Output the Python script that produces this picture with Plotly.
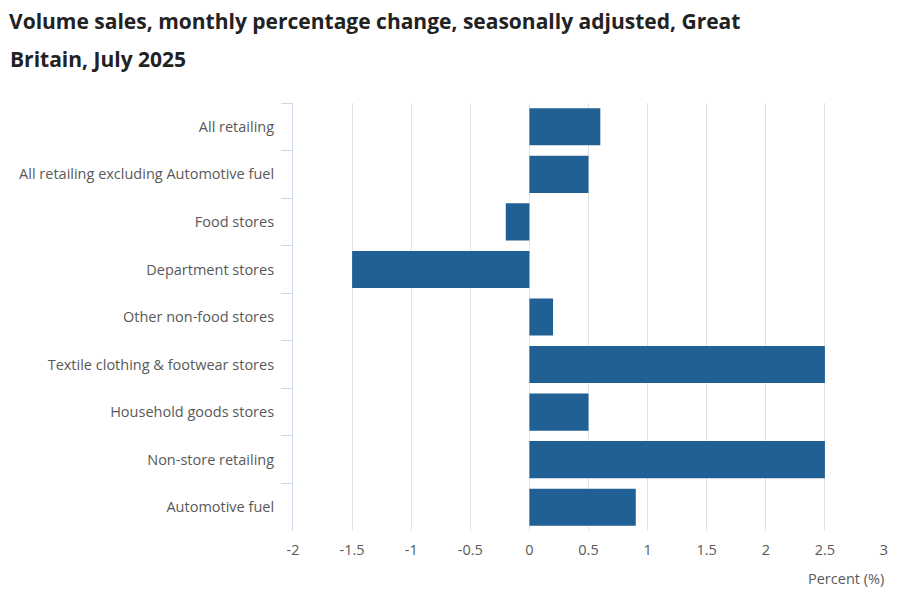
import plotly.graph_objects as go

# Categories, top to bottom
categories = [
    "All retailing",
    "All retailing excluding Automotive fuel",
    "Food stores",
    "Department stores",
    "Other non-food stores",
    "Textile clothing & footwear stores",
    "Household goods stores",
    "Non-store retailing",
    "Automotive fuel",
]
# Monthly % change, volume, seasonally adjusted
pct_change = [0.6, 0.5, -0.2, -1.5, 0.2, 2.5, 0.5, 2.5, 0.9]

x_ticks = [-2, -1.5, -1, -0.5, 0, 0.5, 1, 1.5, 2, 2.5, 3]

font_family = "Open Sans, Noto Sans, sans-serif"

# the page body adds an 8px margin, so the figure is a little smaller
W, H = 892, 585
plot_top, plot_bottom = 95, 523
plot_left, plot_right = 285, 876

fig = go.Figure()

fig.add_trace(go.Bar(
    x=pct_change,
    y=categories,
    orientation="h",
    marker=dict(color="#206095", line=dict(width=0)),
    hovertemplate="%{y}: %{x}%<extra></extra>",
))

fig.update_layout(
    width=W, height=H,
    margin=dict(l=plot_left, r=W - plot_right, t=plot_top, b=H - plot_bottom),
    paper_bgcolor="white",
    plot_bgcolor="white",
    font=dict(family=font_family, color="#595959", size=14),
    showlegend=False,
    bargap=0.22,
    title=dict(
        text="<b>Volume sales, monthly percentage change, seasonally adjusted, Great</b>",
        x=1 / W, xanchor="left",
        y=1 - 14 / H, yanchor="middle", yref="container",
        font=dict(size=21, color="#222222", family=font_family),
    ),
    xaxis=dict(
        range=[-2, 3],
        tickvals=x_ticks,
        ticktext=[f"{v:g}" for v in x_ticks],
        showgrid=True, gridcolor="#e2e2e2", gridwidth=1,
        zeroline=False, showline=False, ticks="",
        ticklabelstandoff=8,
        tickfont=dict(size=14.5, color="#595959"),
    ),
    yaxis=dict(
        categoryorder="array", categoryarray=categories,
        autorange="reversed",
        showgrid=False, zeroline=False,
        showline=True, linecolor="#ccd6eb", linewidth=1,
        ticks="outside", tickson="boundaries", ticklen=11,
        tickcolor="#ccd6eb", tickwidth=1,
        ticklabelstandoff=15,
        tickfont=dict(size=14.5, color="#595959"),
    ),
)

plot_h = plot_bottom - plot_top
plot_w = plot_right - plot_left

fig.add_annotation(
    text="<b>Britain, July 2025</b>",
    xref="paper", yref="paper",
    x=(0 - plot_left) / plot_w, y=(plot_bottom - 51) / plot_h,
    xanchor="left", yanchor="middle",
    showarrow=False,
    font=dict(size=21, color="#222222", family=font_family),
)

fig.add_annotation(
    text="Percent (%)",
    xref="paper", yref="paper",
    x=(plot_w + 2) / plot_w, y=(plot_bottom - 570) / plot_h,
    xanchor="right", yanchor="middle",
    showarrow=False,
    font=dict(size=14.5, color="#595959", family=font_family),
)

fig.write_html("out.html")
